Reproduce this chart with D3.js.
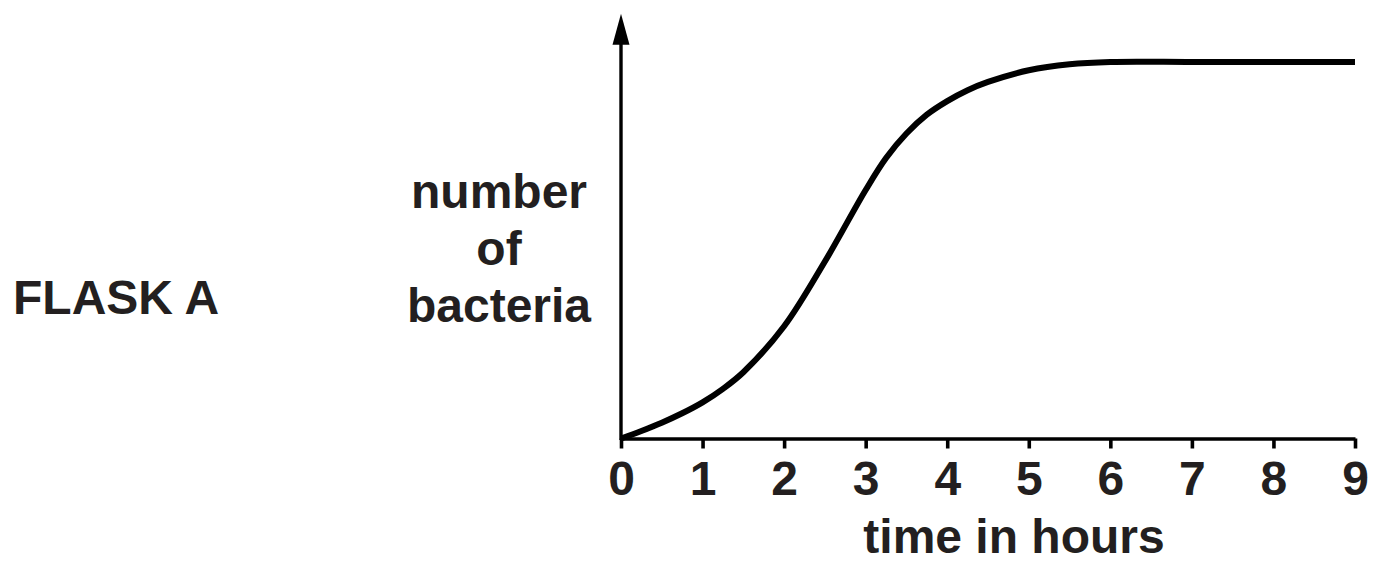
<!DOCTYPE html>
<html>
<head>
<meta charset="utf-8">
<script src="https://cdn.jsdelivr.net/npm/d3@7"></script>
<style>
    body { margin: 0; background: #fff; }
    svg { display: block; }
    .lbl { font-family: "Liberation Sans", Arial, Helvetica, sans-serif; font-weight: bold; font-size: 48px; fill: #231f20; }
</style>
</head>
<body>
<svg width="1373" height="566"></svg>
<script>
// growth curve (arbitrary units, 100 = plateau)
const hours = [ 0, 0.25, 0.5, 0.75, 1, 1.25, 1.5, 2, 2.5, 3, 3.25, 3.5, 3.75, 4, 4.25, 4.5, 5, 5.5, 6, 7, 8, 9 ];
const bacteria = [ 0, 2.0, 4.2, 6.7, 9.6, 13.2, 17.6, 29.8, 47, 66, 74.5, 81, 86, 89.6, 92.5, 94.7, 97.8, 99.4, 100, 100, 100, 100 ];
const xTicks = [ 0, 1, 2, 3, 4, 5, 6, 7, 8, 9 ];
const yLabelLines = [ 'number', 'of', 'bacteria' ];
const xLabel = 'time in hours';
const flaskLabel = 'FLASK A';

const svg = d3.select( 'svg' );

const xScale = d3.scaleLinear().domain( [ 0, 9 ] ).range( [ 621, 1355 ] );
const yScale = d3.scaleLinear().domain( [ 0, 100 ] ).range( [ 438.5, 62 ] );
const yTop = 112.8; // where the arrow tip sits

// x axis
const xAxis = d3.axisBottom( xScale )
    .tickValues( xTicks )
    .tickFormat( d3.format( 'd' ) )
    .tickSize( 10 )
    .tickSizeOuter( 0 )
    .tickPadding( 12 );

const xAxisGroup = svg.append( 'g' )
    .attr( 'transform', `translate(0,${yScale( 0 )})` )
    .call( xAxis );

xAxisGroup.select( '.domain' )
    .attr( 'stroke', '#000' )
    .attr( 'stroke-width', 3.6 );
xAxisGroup.selectAll( '.tick line' )
    .attr( 'stroke', '#000' )
    .attr( 'stroke-width', 3.6 );
xAxisGroup.selectAll( '.tick text' )
    .attr( 'class', 'lbl' )
    .attr( 'font-size', null )
    .attr( 'font-family', null )
    .attr( 'fill', null );

// y axis with arrow
const tipY = yScale( yTop );
const arrowLen = 31, arrowHalf = 8.5;
const x0 = xScale( 0 );

svg.append( 'line' )
    .attr( 'x1', x0 ).attr( 'x2', x0 )
    .attr( 'y1', yScale( 0 ) + 1.5 )
    .attr( 'y2', tipY + arrowLen - 1 )
    .attr( 'stroke', '#000' )
    .attr( 'stroke-width', 3.4 );

svg.append( 'path' )
    .attr( 'd', `M${x0},${tipY}L${x0 + arrowHalf},${tipY + arrowLen}L${x0 - arrowHalf},${tipY + arrowLen}Z` )
    .attr( 'fill', '#000' );

// the curve
const data = hours.map( ( h, i ) => ( { h, v: bacteria[ i ] } ) );
const line = d3.line()
    .x( d => xScale( d.h ) )
    .y( d => yScale( d.v ) )
    .curve( d3.curveCatmullRom.alpha( 0.5 ) );

svg.append( 'path' )
    .datum( data )
    .attr( 'd', line )
    .attr( 'fill', 'none' )
    .attr( 'stroke', '#000' )
    .attr( 'stroke-width', 6 )
    .attr( 'stroke-linecap', 'butt' );

// labels
svg.append( 'text' )
    .attr( 'class', 'lbl' )
    .attr( 'x', 1014 )
    .attr( 'y', 553 )
    .attr( 'text-anchor', 'middle' )
    .text( xLabel );

svg.append( 'text' )
    .attr( 'class', 'lbl' )
    .attr( 'text-anchor', 'middle' )
    .selectAll( 'tspan' )
    .data( yLabelLines )
    .enter().append( 'tspan' )
    .attr( 'x', 499 )
    .attr( 'y', ( d, i ) => 208 + i * 57 )
    .text( d => d );

svg.append( 'text' )
    .attr( 'class', 'lbl' )
    .attr( 'x', 13 )
    .attr( 'y', 314 )
    .text( flaskLabel );
</script>
</body>
</html>
